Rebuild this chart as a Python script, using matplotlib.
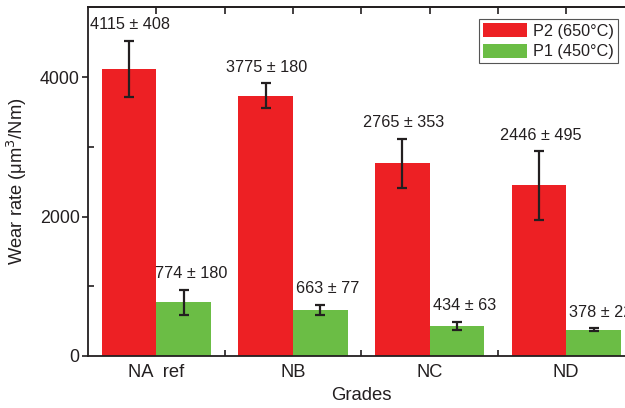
import matplotlib
matplotlib.use("Agg")
import matplotlib.pyplot as plt
import numpy as np

plt.rcParams['font.family'] = ['Liberation Sans', 'DejaVu Sans']

grades = ["NA  ref", "NB", "NC", "ND"]
p2_mean = [4115, 3735, 2765, 2446]
p2_err = [408, 180, 353, 495]
p2_text = ["4115 ± 408", "3775 ± 180", "2765 ± 353", "2446 ± 495"]
p1_mean = [771, 660, 431, 375]
p1_err = [180, 77, 63, 22]
p1_text = ["774 ± 180", "663 ± 77", "434 ± 63", "378 ± 22"]
series_names = ["P2 (650°C)", "P1 (450°C)"]

red = "#ED2024"
green = "#6BBD45"
ink = "#231F20"

fig = plt.figure(figsize=(6.25, 4.08), dpi=100)
ax = fig.add_axes([88/625, 52/408, (634.5-88)/625, (356-7.3)/408])

x = np.arange(len(grades))
w = 0.40
ekw = dict(ecolor=ink, elinewidth=1.6, capsize=3.6, capthick=1.6)
b2 = ax.bar(x - w/2, p2_mean, w, color=red, yerr=p2_err, error_kw=ekw,
            label=series_names[0], zorder=2)
b1 = ax.bar(x + w/2, p1_mean, w, color=green, yerr=p1_err, error_kw=ekw,
            label=series_names[1], zorder=2)

for xi, m, e, t in zip(x - w/2, p2_mean, p2_err, p2_text):
    ax.annotate(t, (xi, m + e), xytext=(1, 11.4), textcoords="offset points",
                ha="center", va="center", fontsize=11.7, color=ink,
                annotation_clip=False)
for xi, m, e, t in zip(x + w/2, p1_mean, p1_err, p1_text):
    ax.annotate(t, (xi, m + e), xytext=(5.5, 11.4), textcoords="offset points",
                ha="center", va="center", fontsize=11.7, color=ink,
                annotation_clip=False)

ax.set_xlim(-0.5, 3.5)
ax.set_ylim(0, 5000)

ax.set_yticks([0, 2000, 4000])
ax.set_yticks([1000, 3000], minor=True)
ax.tick_params(axis='y', which='major', direction='out', length=4, width=1.2,
               labelsize=12.8, colors=ink, pad=2)
ax.tick_params(axis='y', which='minor', direction='in', length=4, width=1.2, color=ink)

ax.set_xticks(x)
ax.set_xticklabels(grades)
ax.set_xticks([0.5, 1.5, 2.5], minor=True)
ax.tick_params(axis='x', which='major', length=0, labelsize=13.2, colors=ink, pad=6)
ax.tick_params(axis='x', which='minor', direction='in', length=4, width=1.2, color=ink)

top = ax.secondary_xaxis('top')
top.set_xticks(np.arange(0, 3.6, 0.5))
top.tick_params(axis='x', direction='in', length=5, width=1.2, labeltop=False, color=ink)
top.spines['top'].set_linewidth(1.3)
top.spines['top'].set_color(ink)

for s in ax.spines.values():
    s.set_linewidth(1.3)
    s.set_color(ink)

ax.set_ylabel("Wear rate (μm$^3$/Nm)", fontsize=13.2, color=ink, labelpad=8)
ax.set_xlabel("Grades", fontsize=13.3, color=ink, labelpad=4)

leg = ax.legend(loc="upper right", bbox_to_anchor=(618/625, 1 - 19/408),
                bbox_transform=fig.transFigure, borderaxespad=0,
                fontsize=11.7, handlelength=2.75, handleheight=0.95,
                handletextpad=0.35, labelspacing=0.3, borderpad=0.25,
                fancybox=False, framealpha=1)
leg.get_frame().set_edgecolor("#555555")
leg.get_frame().set_linewidth(0.8)
for t in leg.get_texts():
    t.set_color(ink)

fig.savefig("out.png", dpi=100)
